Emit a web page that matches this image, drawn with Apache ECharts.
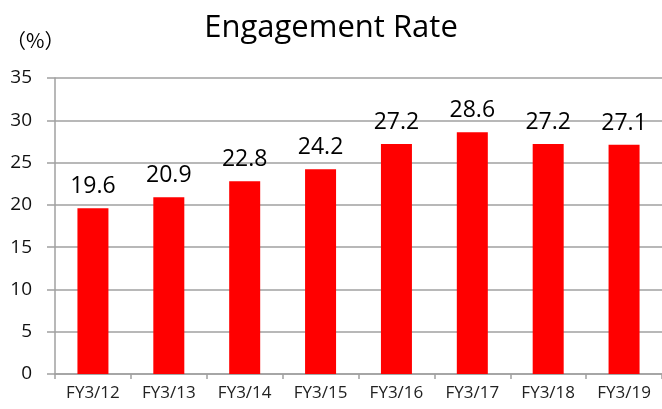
<!DOCTYPE html>
<html>
<head>
<meta charset="utf-8">
<script src="https://cdn.jsdelivr.net/npm/echarts@6/dist/echarts.min.js"></script>
<style>
  html, body { margin: 0; padding: 0; background: #fff; }
  #main { width: 662px; height: 409px; }
</style>
</head>
<body>
<div id="main"></div>
<script>
var categories = ['FY3/12', 'FY3/13', 'FY3/14', 'FY3/15', 'FY3/16', 'FY3/17', 'FY3/18', 'FY3/19'];
var rates = [19.6, 20.9, 22.8, 24.2, 27.2, 28.6, 27.2, 27.1];
var yTicks = { min: 0, max: 35, interval: 5 };

var myChart = echarts.init(document.getElementById('main'));
var font = '"Open Sans", "Noto Sans", sans-serif';

option = {
  backgroundColor: '#fff',
  animation: false,
  title: {
    text: 'Engagement Rate',
    left: 'center',
    top: 8,
    textStyle: { fontFamily: font, fontSize: 31, fontWeight: 'normal', color: '#000' }
  },
  graphic: [{
    type: 'text',
    left: 6,
    top: 30,
    style: { text: '（%）', fontFamily: '"Noto Sans CJK SC", sans-serif', fontSize: 20, fill: '#000' }
  }],
  grid: { left: 55, top: 78, width: 610, height: 296, containLabel: false },
  xAxis: {
    type: 'category',
    data: categories,
    axisLine: { lineStyle: { color: '#a0a0a0', width: 1.5 } },
    axisTick: { show: true, length: 5, lineStyle: { color: '#a0a0a0', width: 1.5 } },
    axisLabel: { margin: 11, fontFamily: font, fontSize: 17, color: '#222' }
  },
  yAxis: {
    type: 'value',
    min: yTicks.min,
    max: yTicks.max,
    interval: yTicks.interval,
    axisLine: { show: true, lineStyle: { color: '#a0a0a0', width: 1.5 } },
    axisTick: { show: true, length: 8, lineStyle: { color: '#a0a0a0', width: 1.5 } },
    splitLine: { lineStyle: { color: '#a0a0a0', width: 1.5 } },
    axisLabel: { margin: 23, fontFamily: font, fontSize: 19, color: '#111' }
  },
  series: [{
    type: 'bar',
    data: rates,
    barWidth: 31,
    itemStyle: { color: '#ff0000' },
    label: {
      show: true,
      position: 'top',
      distance: 10,
      fontFamily: font,
      fontSize: 23,
      color: '#000'
    }
  }]
};
myChart.setOption(option);
</script>
</body>
</html>
